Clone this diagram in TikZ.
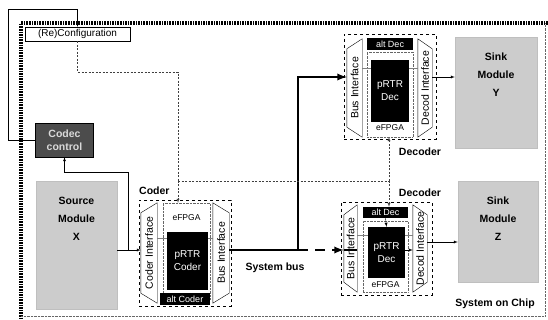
\documentclass[tikz,border=0pt]{standalone}
\usepackage{fontspec}
\setmainfont{Liberation Sans}
\usepackage{graphicx}
\usetikzlibrary{calc}
\usetikzlibrary{arrows}

% interface outlines (outer side shorter than inner side)
\newcommand{\ifaceleft}[1]{\draw (#1.north east) -- (#1.south east) -- ([yshift=10pt]#1.south west) -- ([yshift=-10pt]#1.north west) -- cycle;}
\newcommand{\ifaceright}[1]{\draw (#1.north west) -- (#1.south west) -- ([yshift=10pt]#1.south east) -- ([yshift=-10pt]#1.north east) -- cycle;}

\begin{document}
\begin{tikzpicture}[x=1pt,y=-1pt,
  every node/.style={inner sep=0pt},
  lbl/.style={font=\fontsize{10.5}{12}\selectfont\bfseries},
  module/.style={fill=black!20, draw=black!25},
  modtext/.style={anchor=north, yshift=-16pt, align=center, font=\fontsize{10.5}{18}\selectfont\bfseries},
  block/.style={draw, dashed, thick},
  efpga/.style={draw=black!60, densely dotted},
  chip/.style={fill=black, text=white, align=center},
  iface/.style={font=\fontsize{10.5}{12}\selectfont},
  small/.style={font=\fontsize{8.5}{10}\selectfont},
  flow/.style={->, >=latex, thin},
  bus/.style={->, >=latex, line width=2.2pt},
  cfg/.style={black!75, dash pattern=on 2pt off 1.5pt}]

\useasboundingbox (0,0) rectangle (548,320);

%---------------------------------------
% System on Chip border
%---------------------------------------
\draw[line width=3.2pt, dash pattern=on 1.6pt off 1pt] (548,23) -- (21,23) -- (21,320);
\draw[densely dotted, black!60] (21,316) -- (545,316) -- (545,23);
\node[lbl] (soc) at (495,304) {System on Chip};

%---------------------------------------
% Control side
%---------------------------------------
\node[draw, fill=white, minimum width=105pt, minimum height=14pt,
      font=\fontsize{10}{12}\selectfont] (config) at (77.5,34) {(Re)Configuration};
\node[draw, fill=black!70, text=black!15, minimum width=58pt, minimum height=34pt,
      align=center, font=\fontsize{10.5}{13}\selectfont\bfseries] (codec) at (64.5,140) {Codec\\control};

\node[module, minimum width=81pt, minimum height=128pt,
      label={[modtext]north:{Source\\Module\\X}}] (src) at (76.5,245) {};

%---------------------------------------
% Coder
%---------------------------------------
\node[lbl, anchor=west] (coderlbl) at (139,191) {Coder};
\node[block, minimum width=92pt, minimum height=106pt] (coder) at (185,253) {};
\node[efpga, minimum width=47pt, minimum height=97pt] (efpgaC) at (186.5,251.5) {};
\node[small] at (186.5,218) {eFPGA};
\node[iface, minimum width=16pt, minimum height=100pt] (ifCl) at (149,253) {\rotatebox{90}{Coder Interface}};
\node[iface, minimum width=16pt, minimum height=100pt] (ifCr) at (221,253) {\rotatebox{90}{Bus Interface}};
\ifaceleft{ifCl}
\ifaceright{ifCr}
\coordinate (lnC) at (0,238);
\draw[black!50] (ifCl.east |- lnC) -- (ifCr.west |- lnC);
\node[chip, minimum width=41pt, minimum height=58pt, font=\fontsize{10}{13}\selectfont] (prtrC) at (187.5,261) {pRTR\\Coder};
\node[chip, minimum width=50pt, minimum height=12pt, font=\fontsize{9}{10}\selectfont] (altC) at (185,299) {alt Coder};

%---------------------------------------
% Decoder Y
%---------------------------------------
\node[block, minimum width=92pt, minimum height=105pt] (decY) at (390,86.5) {};
\node[lbl] (decYlbl) at (420,152) {Decoder};
\node[efpga, minimum width=46pt, minimum height=85pt] (efpgaY) at (390,94.5) {};
\node[small] at (390,128) {eFPGA};
\node[iface, minimum width=15pt, minimum height=98pt] (ifYl) at (354.5,88) {\rotatebox{90}{Bus Interface}};
\node[iface, minimum width=14pt, minimum height=98pt] (ifYr) at (425,88) {\rotatebox{90}{Decod Interface}};
\ifaceleft{ifYl}
\ifaceright{ifYr}
\coordinate (lnY) at (0,68);
\draw[black!50] (ifYl.east |- lnY) -- (ifYr.west |- lnY);
\node[chip, minimum width=46pt, minimum height=12pt, font=\fontsize{9}{10}\selectfont] (altY) at (390,44) {alt Dec};
\node[chip, minimum width=38pt, minimum height=62pt, font=\fontsize{10}{13}\selectfont] (prtrY) at (390,91) {pRTR\\Dec};

\node[module, minimum width=82pt, minimum height=111pt,
      label={[modtext]north:{Sink\\Module\\Y}}] (sinkY) at (496,92.5) {};

%---------------------------------------
% Decoder Z
%---------------------------------------
\node[block, minimum width=91pt, minimum height=93pt] (decZ) at (386.5,248.5) {};
\node[lbl] (decZlbl) at (420,193) {Decoder};
\node[efpga, minimum width=45pt, minimum height=71pt] (efpgaZ) at (385.5,256.5) {};
\node[small] at (385.5,285) {eFPGA};
\node[iface, minimum width=13pt, minimum height=87pt] (ifZl) at (350.5,248.5) {\rotatebox{90}{Bus Interface}};
\node[iface, minimum width=14pt, minimum height=87pt] (ifZr) at (420,248.5) {\rotatebox{90}{Decod Interface}};
\ifaceleft{ifZl}
\ifaceright{ifZr}
\coordinate (lnZ) at (0,235);
\draw[black!50] (ifZl.east |- lnZ) -- (ifZr.west |- lnZ);
\node[chip, minimum width=45pt, minimum height=11pt, font=\fontsize{9}{10}\selectfont] (altZ) at (385.5,212.5) {alt Dec};
\node[chip, minimum width=37pt, minimum height=51pt, font=\fontsize{10}{13}\selectfont] (prtrZ) at (386.5,252.5) {pRTR\\Dec};

\node[module, minimum width=80pt, minimum height=101pt,
      label={[modtext]north:{Sink\\Module\\Z}}] (sinkZ) at (498,231.5) {};

%---------------------------------------
% Connections
%---------------------------------------
\coordinate (busjoin) at (298,250);
\coordinate (busup) at (298,77);
\coordinate (tap) at (128,250);
\coordinate (fbcorner) at (8,9);
\coordinate (cfgturn) at (178,72);
\coordinate (cfgsplit) at (178,181);
\coordinate (decsplit) at (389,181);
\coordinate (outZ) at (0,242);

% data path
\draw[flow] (src.east |- busjoin) -- (ifCl.west |- busjoin);
\draw[flow] (tap) |- ([yshift=-15pt]codec.south) -- (codec.south);
\draw[bus, -] (ifCr.east |- busjoin) -- (busjoin);
\draw[bus] (busjoin) -- (busup) -- (ifYl.west |- busup);
\draw[bus, dash pattern=on 10pt off 7pt] (busjoin) -- (ifZl.west |- busjoin);
\draw[line width=2.2pt] (ifZl.west |- busjoin) -- (ifZl.east |- busjoin);
\draw[flow] (prtrZ.east |- busjoin) -- (ifZr.west |- busjoin);
\draw[flow] (altZ.south) -- (prtrZ.north);
\draw[flow] (ifYr.east |- busup) -- (sinkY.west |- busup);
\draw[flow] (ifZr.east |- outZ) -- (sinkZ.west |- outZ);

% control path
\draw[flow] (codec.west) -| (fbcorner) -| (config.north);
\draw[cfg] (config.south) |- (cfgturn) -- (cfgsplit);
\draw[cfg, ->, >=latex] (cfgsplit) -- (cfgsplit |- efpgaC.north);
\draw[cfg] (cfgsplit) -- (decsplit);
\draw[cfg, ->, >=latex] (decsplit) -- (decsplit |- efpgaY.south);
\draw[cfg, ->, >=latex] (decsplit) -- (decsplit |- altZ.north);

\node[lbl] (buslbl) at (275,268) {System bus};

\end{tikzpicture}
\end{document}
